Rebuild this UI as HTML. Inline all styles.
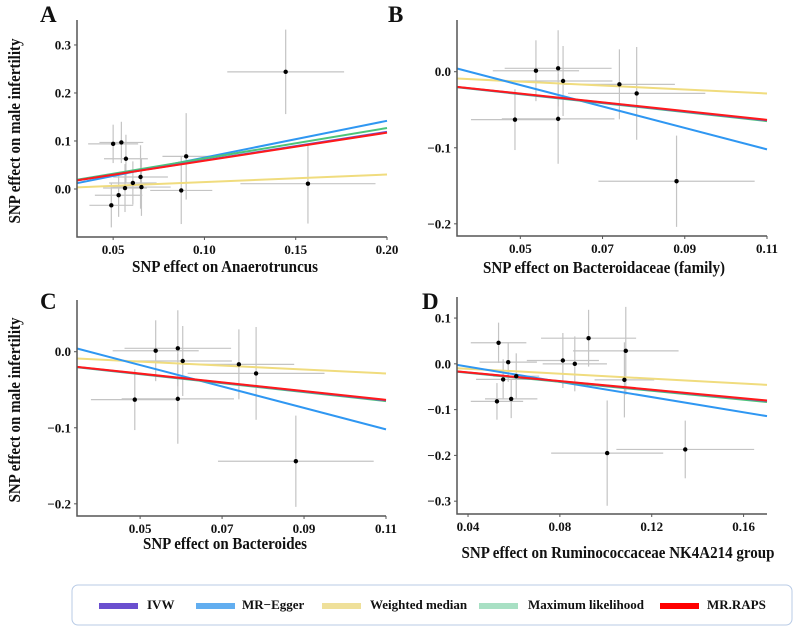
<!DOCTYPE html>
<html><head><meta charset="utf-8"><style>
body{margin:0;background:#fff;width:796px;height:629px;overflow:hidden;font-family:"Liberation Serif",serif}
svg text{font-family:"Liberation Serif",serif;font-weight:bold;fill:#111}
</style></head><body>
<svg id="fig" width="796" height="629"></svg>
<script>
// Panel A data
const aX=[0.050,0.0545,0.057,0.065,0.0608,0.0565,0.0655,0.053,0.049,0.0873,0.090,0.1445,0.1567];
const aY=[0.094,0.097,0.063,0.025,0.0125,0.002,0.004,-0.013,-0.034,-0.003,0.068,0.244,0.011];
const aXse=[0.0137,0.012,0.012,0.015,0.013,0.012,0.016,0.013,0.012,0.017,0.013,0.032,0.037];
const aYse=[0.04,0.043,0.05,0.066,0.045,0.05,0.06,0.045,0.046,0.07,0.09,0.088,0.083];
const aSlopes=[0.595,0.765,0.157,0.635,0.585];
const aInts=[0,-0.011,-0.0013,0,0.0003];
// Panels B and C data (same SNPs)
const bX=[0.0538,0.0592,0.0604,0.0741,0.0783,0.0487,0.0592,0.088];
const bY=[0.0013,0.0045,-0.0122,-0.0166,-0.0285,-0.063,-0.062,-0.144];
const bXse=[0.0105,0.013,0.012,0.0135,0.0167,0.0107,0.0137,0.019];
const bYse=[0.04,0.05,0.046,0.046,0.061,0.04,0.059,0.06];
const bSlopes=[-0.58,-1.41,-0.26,-0.59,-0.575];
const bInts=[0,0.053,0,0,0];
// Panel D data
const dX=[0.0533,0.0575,0.0553,0.0526,0.0588,0.061,0.0813,0.0865,0.0925,0.1087,0.1081,0.1006,0.1346];
const dY=[0.046,0.0037,-0.034,-0.082,-0.0766,-0.027,0.0073,0.0,0.056,0.0284,-0.035,-0.195,-0.187];
const dXse=[0.0121,0.0125,0.0118,0.0114,0.0114,0.01,0.0157,0.014,0.0207,0.023,0.013,0.0244,0.03];
const dYse=[0.044,0.043,0.044,0.04,0.042,0.05,0.06,0.06,0.062,0.096,0.082,0.115,0.063];
const dSlopes=[-0.475,-0.83,-0.27,-0.49,-0.47];
const dInts=[0,0.027,0,0,0];
// tick labels
const aXticks=[0.05,0.10,0.15,0.20], aXlab=["0.05","0.10","0.15","0.20"];
const aYticks=[0,0.1,0.2,0.3], aYlab=["0.0","0.1","0.2","0.3"];
const bXticks=[0.05,0.07,0.09,0.11], bXlab=["0.05","0.07","0.09","0.11"];
const bYticks=[0,-0.1,-0.2], bYlab=["0.0","\u22120.1","\u22120.2"];
const dXticks=[0.04,0.08,0.12,0.16], dXlab=["0.04","0.08","0.12","0.16"];
const dYticks=[0.1,0,-0.1,-0.2,-0.3], dYlab=["0.1","0.0","\u22120.1","\u22120.2","\u22120.3"];
const methods=["IVW","MR\u2212Egger","Weighted median","Maximum likelihood","MR.RAPS"];
const lineColors=["#6a4fcf","#2f97f2","#f0dc7e","#4cc47a","#ff1a1a"];
const swatchColors=["#6a4fcf","#62aef0","#efe09a","#a8e0c4","#ff0000"];

const NS="http://www.w3.org/2000/svg";
const svg=document.getElementById('fig');
function mk(tag,attrs,parent){const e=document.createElementNS(NS,tag);for(const k in attrs)e.setAttribute(k,attrs[k]);(parent||svg).appendChild(e);return e;}

function panel(id,letter,box,xd,yd,X,Y,Xse,Yse,slopes,ints,xt,xl,yt,yl,xlabel,ylabel,lp,xlabPos,ylabPos){
  const g=mk('g',{});
  
  
  const [L,T,R,B]=box;
  const sx=v=>L+(v-xd[0])/(xd[1]-xd[0])*(R-L);
  const sy=v=>B-(v-yd[0])/(yd[1]-yd[0])*(B-T);
  for(let i=0;i<X.length;i++){
    const h=mk('line',{x1:sx(X[i]-Xse[i]),x2:sx(X[i]+Xse[i]),y1:sy(Y[i]),y2:sy(Y[i]),stroke:'#c4c4c4','stroke-width':1.2},g);
    
    
    const v=mk('line',{x1:sx(X[i]),x2:sx(X[i]),y1:sy(Y[i]-Yse[i]),y2:sy(Y[i]+Yse[i]),stroke:'#c4c4c4','stroke-width':1.2},g);
    
    
  }
  const order=[2,1,3,0,4];
  for(const m of order){
    const y0=slopes[m]*xd[0]+ints[m], y1=slopes[m]*xd[1]+ints[m];
    const l=mk('line',{x1:sx(xd[0]),x2:sx(xd[1]),y1:sy(y0),y2:sy(y1),stroke:lineColors[m],'stroke-width':2},g);
    
    
  }
  for(let i=0;i<X.length;i++){
    const c=mk('circle',{cx:sx(X[i]),cy:sy(Y[i]),r:2.2,fill:'#000'},g);
    
    
  }
  const ax=mk('path',{d:`M${L},${T}V${B}H${R}`,fill:'none',stroke:'#555','stroke-width':1.5},g);
  
  
  xt.forEach((v,i)=>{
    mk('line',{x1:sx(v),x2:sx(v),y1:B,y2:B+3,stroke:'#555'},g);
    const t=mk('text',{x:sx(v),y:B+17,'text-anchor':'middle','font-size':13},g);
    t.textContent=xl[i];
    
    
  });
  yt.forEach((v,i)=>{
    mk('line',{x1:L-3,x2:L,y1:sy(v),y2:sy(v),stroke:'#555'},g);
    const t=mk('text',{x:L-6,y:sy(v)+4.5,'text-anchor':'end','font-size':13},g);
    t.textContent=yl[i];
    
    
  });
  const xt2=mk('text',{x:xlabPos[0],y:xlabPos[1],'text-anchor':'middle','font-size':17,textLength:xlabPos[2],lengthAdjust:'spacingAndGlyphs'},g);
  xt2.textContent=xlabel;
  
  
  if(ylabel){
    const yt2=mk('text',{x:0,y:0,'text-anchor':'middle','font-size':17,textLength:185,lengthAdjust:'spacingAndGlyphs',transform:`translate(${ylabPos[0]},${ylabPos[1]}) rotate(-90)`},g);
    yt2.textContent=ylabel;
    
    
  }
  const lt=mk('text',{x:lp[0],y:lp[1],'font-size':23},g);
  lt.textContent=letter;
  
  
}
const yl="SNP effect on male infertility";
panel('a','A',[77,20,387,237],[0.0302,0.20],[-0.1,0.352],aX,aY,aXse,aYse,aSlopes,aInts,aXticks,aXlab,aYticks,aYlab,"SNP effect on Anaerotruncus",yl,[40,22],[225,272,186],[20,131]);
panel('b','B',[457,20,767,236],[0.0346,0.11],[-0.216,0.068],bX,bY,bXse,bYse,bSlopes,bInts,bXticks,bXlab,bYticks,bYlab,"SNP effect on Bacteroidaceae (family)",null,[388,22],[604,273,242],null);
panel('c','C',[77,300,386,516],[0.0346,0.11],[-0.216,0.068],bX,bY,bXse,bYse,bSlopes,bInts,bXticks,bXlab,bYticks,bYlab,"SNP effect on Bacteroides",yl,[40,309],[225,549,164],[20,410]);
panel('d','D',[457,297,767,514],[0.0352,0.1702],[-0.328,0.146],dX,dY,dXse,dYse,dSlopes,dInts,dXticks,dXlab,dYticks,dYlab,"SNP effect on Ruminococcaceae NK4A214 group",null,[422,309],[618,558,313],null);

const lg=mk('g',{});


const box=mk('rect',{x:72,y:585,width:720,height:40,rx:6,fill:'#fff',stroke:'#b8cbe6','stroke-width':1},lg);


const swX=[99,196,322,479,660], txX=[147,242,370,528,707];
methods.forEach((m,i)=>{
  const s=mk('rect',{x:swX[i],y:603,width:39,height:6,fill:swatchColors[i]},lg);
  
  
  const t=mk('text',{x:txX[i],y:609,'font-size':13},lg);
  t.textContent=m;
  
  
});
</script>
</body></html>
